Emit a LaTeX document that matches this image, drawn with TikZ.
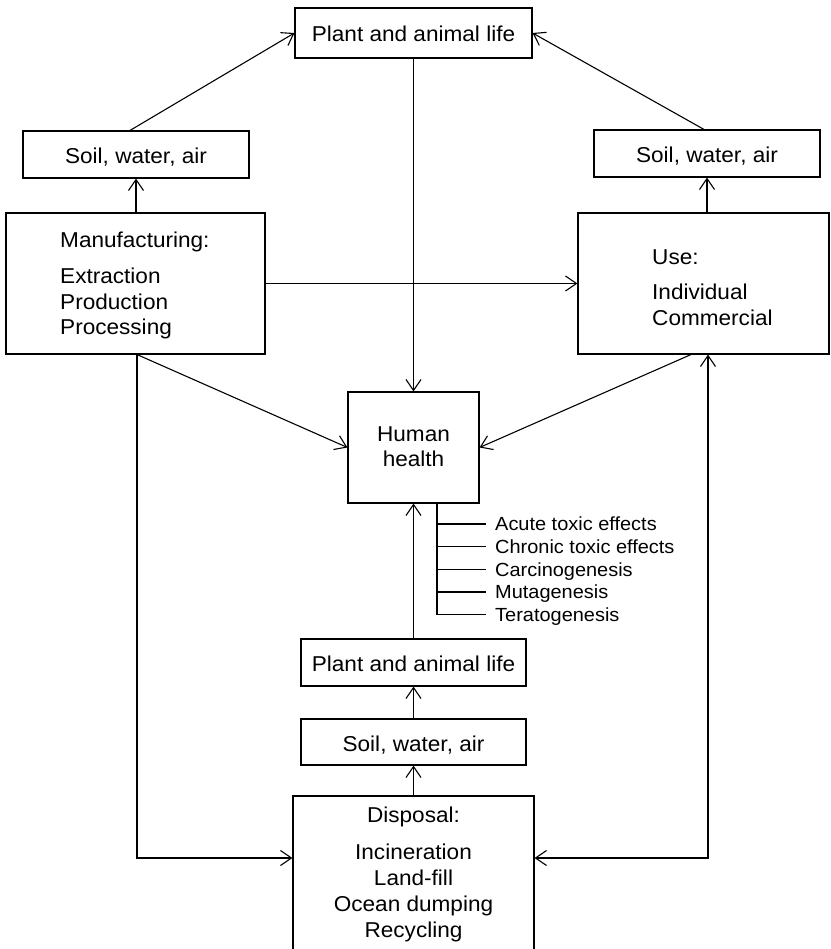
\documentclass[tikz,border=0pt]{standalone}
\usepackage{fontspec}
\setmainfont[FakeStretch=1.05]{Liberation Sans}
\usetikzlibrary{arrows.meta}
\begin{document}
\begin{tikzpicture}[x=1pt,y=-1pt,
  >={Straight Barb[length=11pt,width=15pt]},
  box/.style={draw, line width=1.1pt, inner sep=0pt,
    font=\fontsize{21.5}{25}\selectfont, text height=18pt, text depth=0pt},
  lbl/.style={font=\fontsize{21.5}{25}\selectfont, inner sep=0pt, anchor=base},
  lbll/.style={lbl, anchor=base west},
  eff/.style={font=\fontsize{19}{22}\selectfont, inner sep=0pt, anchor=base west,
    text height=13pt, text depth=0pt},
  conn/.style={line width=1.1pt},
  arr/.style={conn, ->},
]
\useasboundingbox (0,0) rectangle (830,949);

% boxes with a single line of text
\node[box, minimum width=237pt, minimum height=50pt] (topplant) at (413.5,33) {Plant and animal life};
\node[box, minimum width=226pt, minimum height=47pt] (lsoil) at (136,154.5) {Soil, water, air};
\node[box, minimum width=226pt, minimum height=47pt] (rsoil) at (707,153.5) {Soil, water, air};
\node[box, minimum width=225pt, minimum height=47pt] (bplant) at (413.5,662.5) {Plant and animal life};
\node[box, minimum width=225pt, minimum height=46pt] (bsoil) at (413.5,742) {Soil, water, air};

% boxes holding several lines
\node[box, minimum width=259pt, minimum height=141pt] (manuf) at (135.5,283.5) {};
\node[box, minimum width=251pt, minimum height=141pt] (use) at (703.5,283.5) {};
\node[box, minimum width=131pt, minimum height=111pt] (hh) at (413.5,447.5) {};
\node[box, minimum width=241pt, minimum height=204pt] (disp) at (413.5,898) {};

% manufacturing
\node[lbll] (m1) at (60,248) {Manufacturing:};
\node[lbll] (m2) at (60,283.5) {Extraction};
\node[lbll] (m3) at (60,309) {Production};
\node[lbll] (m4) at (60,334.5) {Processing};

% use
\node[lbll] (u1) at (652,265) {Use:};
\node[lbll] (u2) at (652,299) {Individual};
\node[lbll] (u3) at (652,325) {Commercial};

% human health
\node[lbl] (h1) at (413.5,441) {Human};
\node[lbl] (h2) at (413.5,466.5) {health};

% disposal
\node[lbl] (d1) at (413.5,822) {Disposal:};
\node[lbl] (d2) at (413.5,859) {Incineration};
\node[lbl] (d3) at (413.5,885) {Land-fill};
\node[lbl] (d4) at (413.5,911) {Ocean dumping};
\node[lbl] (d5) at (413.5,937) {Recycling};

% health effects
\node[eff] (e1) at (495,530.5) {Acute toxic effects};
\node[eff] (e2) at (495,553) {Chronic toxic effects};
\node[eff] (e3) at (495,576) {Carcinogenesis};
\node[eff] (e4) at (495,598.5) {Mutagenesis};
\node[eff] (e5) at (495,621) {Teratogenesis};
\coordinate (bx) at ([xshift=23.5pt]hh.south);
\draw[conn] (bx) |- ([xshift=-9pt]e5.west);
\foreach \e in {e1,e2,e3,e4}
  \draw[conn] (bx |- \e.west) -- ([xshift=-9pt]\e.west);

% connectors
\draw[arr] (manuf.north -| lsoil.south) -- (lsoil.south);
\draw[arr] (use.north -| rsoil.south) -- (rsoil.south);
\draw[arr] ([xshift=-6pt]lsoil.north) -- (topplant.west);
\draw[arr] ([xshift=-3pt]rsoil.north) -- (topplant.east);
\draw[arr] (topplant.south) -- (hh.north);
\draw[arr] (manuf.east) -- (use.west);
\draw[arr] ([xshift=1.5pt]manuf.south) -- (hh.west);
\draw[arr] ([xshift=-12.5pt]use.south) -- (hh.east);
\draw[arr] (bplant.north) -- (hh.south);
\draw[arr] (bsoil.north) -- (bplant.south);
\draw[arr] (disp.north) -- (bsoil.south);
\coordinate (lev) at (0,858);
\draw[arr] ([xshift=1.5pt]manuf.south) |- (disp.west |- lev);
\draw[conn, <->] (disp.east |- lev) -| ([xshift=4.5pt]use.south);
\end{tikzpicture}
\end{document}
